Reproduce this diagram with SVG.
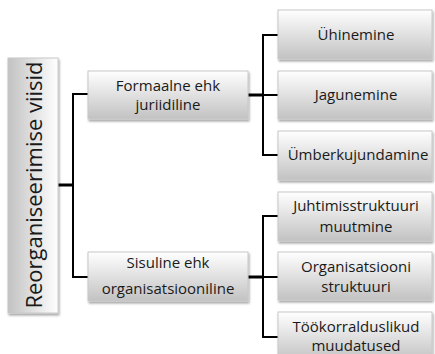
<svg xmlns="http://www.w3.org/2000/svg" width="435" height="354" viewBox="0 0 435 354">
<defs>
<linearGradient id="gv" x1="0" y1="0" x2="0" y2="1">
<stop offset="0" stop-color="#ffffff"/>
<stop offset="1" stop-color="#c2c2c2"/>
</linearGradient>
<linearGradient id="gh" x1="1" y1="0" x2="0" y2="0">
<stop offset="0" stop-color="#ffffff"/>
<stop offset="1" stop-color="#c2c2c2"/>
</linearGradient>
<filter id="sh" x="-10%" y="-10%" width="130%" height="140%">
<feDropShadow dx="1" dy="2" stdDeviation="1.2" flood-color="#000" flood-opacity="0.35"/>
</filter>
</defs>
<style>
.box{fill:url(#gv);stroke:#c8c8c8;stroke-width:1;filter:url(#sh)}
.rbox{fill:url(#gh);stroke:#c8c8c8;stroke-width:1;filter:url(#sh)}
text{font-family:"Open Sans","Liberation Sans",sans-serif;font-size:15px;fill:#1a1a1a;text-anchor:middle}
.root{font-size:22px}
.c{fill:none;stroke:#000;stroke-width:2}
.ct{fill:none;stroke:#000;stroke-width:3}
</style>
<rect width="435" height="354" fill="#ffffff"/>
<g id="connectors">
<path class="ct" d="M58 185H73"/>
<path class="c" d="M88 94H73V277H88"/>
<path class="ct" d="M248 95H263"/>
<path class="c" d="M278 35H263V155H278M263 95H278"/>
<path class="ct" d="M248 277H263"/>
<path class="c" d="M278 216H263V337H278M263 277H278"/>
</g>
<g id="root">
<rect class="rbox" x="8" y="58" width="50" height="255"/>
<text class="root" transform="translate(42,185) rotate(-90)">Reorganiseerimise viisid</text>
</g>
<g id="formaalne">
<rect class="box" x="88" y="71" width="160" height="48"/>
<text x="168" y="91">Formaalne ehk</text>
<text x="168" y="110">juriidiline</text>
</g>
<g id="sisuline">
<rect class="box" x="88" y="252" width="160" height="49"/>
<text x="168" y="268">Sisuline ehk</text>
<text x="168" y="294">organisatsiooniline</text>
</g>
<g id="uhinemine">
<rect class="box" x="278" y="10" width="154" height="49"/>
<text x="356" y="40">Ühinemine</text>
</g>
<g id="jagunemine">
<rect class="box" x="278" y="71" width="154" height="48"/>
<text x="356" y="100">Jagunemine</text>
</g>
<g id="umberkujundamine">
<rect class="box" x="278" y="131" width="154" height="49"/>
<text x="358" y="160">Ümberkujundamine</text>
</g>
<g id="juhtimis">
<rect class="box" x="278" y="192" width="154" height="49"/>
<text x="356" y="211">Juhtimisstruktuuri</text>
<text x="356" y="232">muutmine</text>
</g>
<g id="organisatsiooni">
<rect class="box" x="278" y="252" width="154" height="48"/>
<text x="356" y="272">Organisatsiooni</text>
<text x="356" y="292">struktuuri</text>
</g>
<g id="tookorraldus">
<rect class="box" x="278" y="312" width="154" height="49"/>
<text x="356" y="332">Töökorralduslikud</text>
<text x="356" y="351">muudatused</text>
</g>
</svg>
